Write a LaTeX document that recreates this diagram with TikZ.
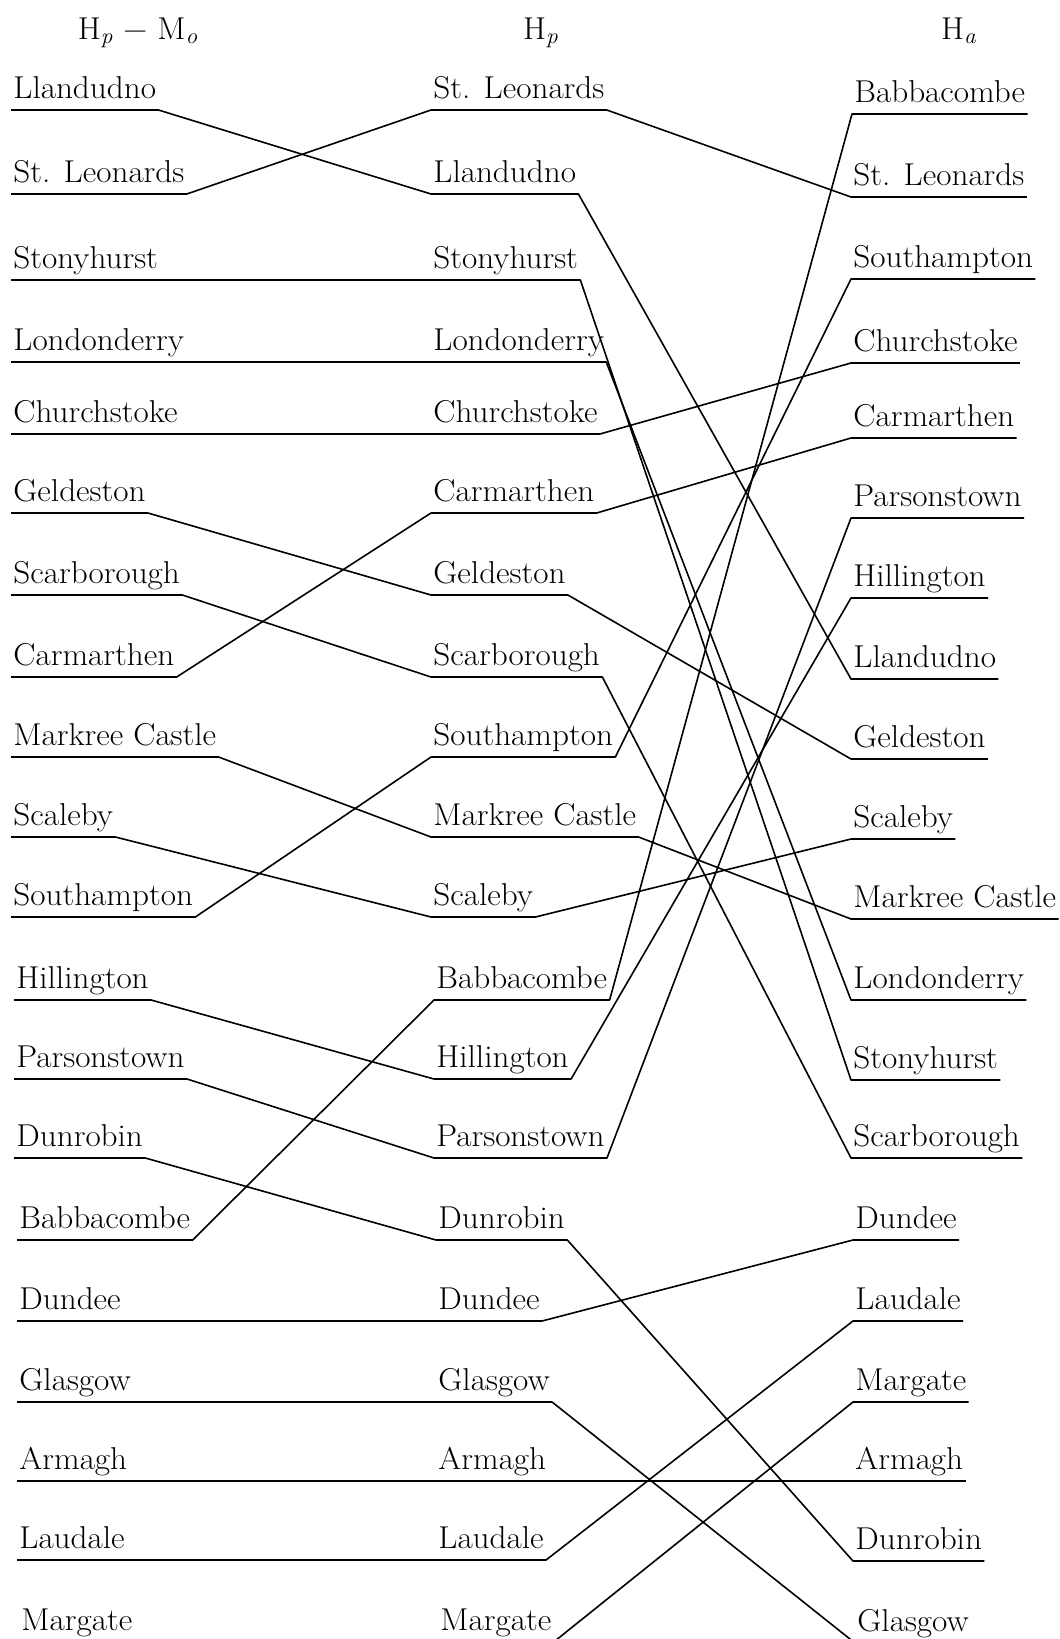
\documentclass[tikz,border=0pt]{standalone}
\usepackage{fontspec}
\setmainfont{Latin Modern Roman}[FakeStretch=1.05]
\usepackage{tikz}

\tikzset{
  stn/.style={anchor=south west, inner xsep=1pt, inner ysep=0pt, text depth=5.5pt,
    font=\fontsize{15.8}{18}\selectfont},
  hdr/.style={anchor=base, font=\fontsize{15.8}{18}\selectfont},
  route/.style={line width=0.8pt, line join=round}
}
\newcommand{\sub}[1]{\textsubscript{\itshape #1}}

\begin{document}
\begin{tikzpicture}[x=0.5pt, y=-0.5pt]
  \clip (0,0) rectangle (1060,1639);

  % column heads
  \node[hdr] (h-left) at (138, 39) {H\sub{p} − M\sub{o}};
  \node[hdr] (h-mid)  at (541, 39) {H\sub{p}};
  \node[hdr] (h-right) at (959, 39) {H\sub{a}};

  % H_p - M_o
  \node[stn] (l-llan)   at (11, 110)  {Llandudno};
  \node[stn] (l-leon)   at (11, 194)  {St. Leonards};
  \node[stn] (l-stony)  at (11, 280)  {Stonyhurst};
  \node[stn] (l-lond)   at (11, 362)  {Londonderry};
  \node[stn] (l-church) at (11, 434)  {Churchstoke};
  \node[stn] (l-geld)   at (11, 513)  {Geldeston};
  \node[stn] (l-scar)   at (11, 595)  {Scarborough};
  \node[stn] (l-carm)   at (11, 677)  {Carmarthen};
  \node[stn] (l-mark)   at (11, 757)  {Markree Castle};
  \node[stn] (l-scal)   at (11, 837)  {Scaleby};
  \node[stn] (l-south)  at (11, 917)  {Southampton};
  \node[stn] (l-hill)   at (14, 1000) {Hillington};
  \node[stn] (l-pars)   at (14, 1079) {Parsonstown};
  \node[stn] (l-dunr)   at (14, 1158) {Dunrobin};
  \node[stn] (l-babb)   at (17, 1240) {Babbacombe};
  \node[stn] (l-dund)   at (17, 1321) {Dundee};
  \node[stn] (l-glas)   at (17, 1402) {Glasgow};
  \node[stn] (l-arm)    at (17, 1481) {Armagh};
  \node[stn] (l-laud)   at (17, 1560) {Laudale};
  \node[stn] (l-marg)   at (19, 1642) {Margate};

  % H_p
  \node[stn] (m-leon)   at (431, 110)  {St. Leonards};
  \node[stn] (m-llan)   at (431, 194)  {Llandudno};
  \node[stn] (m-stony)  at (431, 280)  {Stonyhurst};
  \node[stn] (m-lond)   at (431, 362)  {Londonderry};
  \node[stn] (m-church) at (431, 434)  {Churchstoke};
  \node[stn] (m-carm)   at (431, 513)  {Carmarthen};
  \node[stn] (m-geld)   at (431, 595)  {Geldeston};
  \node[stn] (m-scar)   at (431, 677)  {Scarborough};
  \node[stn] (m-south)  at (431, 757)  {Southampton};
  \node[stn] (m-mark)   at (431, 837)  {Markree Castle};
  \node[stn] (m-scal)   at (431, 917)  {Scaleby};
  \node[stn] (m-babb)   at (434, 1000) {Babbacombe};
  \node[stn] (m-hill)   at (434, 1079) {Hillington};
  \node[stn] (m-pars)   at (434, 1158) {Parsonstown};
  \node[stn] (m-dunr)   at (436, 1240) {Dunrobin};
  \node[stn] (m-dund)   at (436, 1321) {Dundee};
  \node[stn] (m-glas)   at (436, 1402) {Glasgow};
  \node[stn] (m-arm)    at (436, 1481) {Armagh};
  \node[stn] (m-laud)   at (436, 1560) {Laudale};
  \node[stn] (m-marg)   at (438, 1642) {Margate};

  % H_a
  \node[stn] (r-babb)   at (852, 114)  {Babbacombe};
  \node[stn] (r-leon)   at (851, 197)  {St. Leonards};
  \node[stn] (r-south)  at (851, 279)  {Southampton};
  \node[stn] (r-church) at (851, 363)  {Churchstoke};
  \node[stn] (r-carm)   at (851, 438)  {Carmarthen};
  \node[stn] (r-pars)   at (851, 518)  {Parsonstown};
  \node[stn] (r-hill)   at (851, 598)  {Hillington};
  \node[stn] (r-llan)   at (851, 679)  {Llandudno};
  \node[stn] (r-geld)   at (851, 759)  {Geldeston};
  \node[stn] (r-scal)   at (851, 839)  {Scaleby};
  \node[stn] (r-mark)   at (851, 919)  {Markree Castle};
  \node[stn] (r-lond)   at (851, 1000) {Londonderry};
  \node[stn] (r-stony)  at (851, 1080) {Stonyhurst};
  \node[stn] (r-scar)   at (851, 1158) {Scarborough};
  \node[stn] (r-dund)   at (853, 1240) {Dundee};
  \node[stn] (r-laud)   at (853, 1321) {Laudale};
  \node[stn] (r-marg)   at (853, 1402) {Margate};
  \node[stn] (r-arm)    at (853, 1481) {Armagh};
  \node[stn] (r-dunr)   at (853, 1561) {Dunrobin};
  \node[stn] (r-glas)   at (855, 1643) {Glasgow};

  % one line per station, left to right
  \foreach \s in {llan, leon, stony, lond, church, geld, scar, carm, mark, scal,
                  south, hill, pars, dunr, babb, dund, glas, arm, laud, marg}
    \draw[route] (l-\s.south west) -- (l-\s.south east)
      -- (m-\s.south west) -- (m-\s.south east)
      -- (r-\s.south west) -- (r-\s.south east);
\end{tikzpicture}
\end{document}
